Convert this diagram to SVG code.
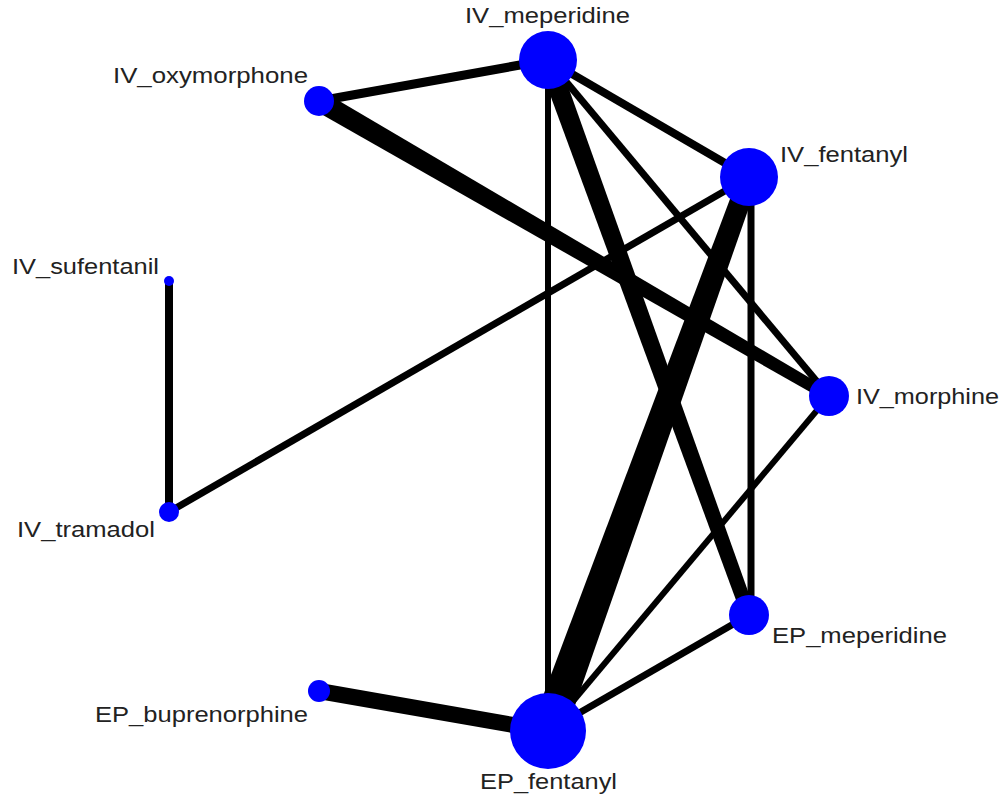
<svg xmlns="http://www.w3.org/2000/svg" width="1008" height="807" viewBox="0 0 1008 807">
<style>
.e{stroke:#000;stroke-linecap:butt;fill:none}
.n{fill:#0000ff}
.t{font-family:"Liberation Sans",Arial,sans-serif;font-size:22px;fill:#222}
</style>
<rect width="1008" height="807" fill="#fff"/>
<g id="edges">
<line class="e" x1="548" y1="60" x2="319" y2="101" stroke-width="9"/>
<line class="e" x1="548" y1="60" x2="749" y2="177" stroke-width="8"/>
<line class="e" x1="548" y1="60" x2="829" y2="396" stroke-width="7"/>
<polygon points="538.6,63.4 557.4,56.6 755.6,612.6 742.4,617.4" fill="#000"/>
<line class="e" x1="548" y1="60" x2="548" y2="731" stroke-width="6"/>
<polygon points="324,92 314,110 826,401 832,391" fill="#000"/>
<line class="e" x1="749" y1="177" x2="169" y2="512" stroke-width="7"/>
<polygon points="739.6,173.6 758.4,180.4 564,736.8 532,725.2" fill="#000"/>
<line class="e" x1="751" y1="177" x2="751" y2="615" stroke-width="7"/>
<line class="e" x1="829" y1="396" x2="548" y2="731" stroke-width="6"/>
<line class="e" x1="749" y1="615" x2="548" y2="731" stroke-width="7"/>
<line class="e" x1="319" y1="691" x2="548" y2="731" stroke-width="16"/>
<line class="e" x1="169" y1="281" x2="169" y2="512" stroke-width="8"/>
</g>
<g id="IV_meperidine"><circle class="n" cx="548" cy="60" r="29"/><text class="t" x="465" y="23" textLength="165" lengthAdjust="spacingAndGlyphs">IV_meperidine</text></g>
<g id="IV_oxymorphone"><circle class="n" cx="319" cy="101" r="15"/><text class="t" x="113" y="83" textLength="195" lengthAdjust="spacingAndGlyphs">IV_oxymorphone</text></g>
<g id="IV_fentanyl"><circle class="n" cx="749" cy="177" r="29"/><text class="t" x="780" y="162" textLength="128" lengthAdjust="spacingAndGlyphs">IV_fentanyl</text></g>
<g id="IV_sufentanil"><circle class="n" cx="169" cy="281" r="5"/><text class="t" x="12" y="274" textLength="147" lengthAdjust="spacingAndGlyphs">IV_sufentanil</text></g>
<g id="IV_morphine"><circle class="n" cx="829" cy="396" r="20"/><text class="t" x="856" y="404" textLength="143" lengthAdjust="spacingAndGlyphs">IV_morphine</text></g>
<g id="IV_tramadol"><circle class="n" cx="169" cy="512" r="10"/><text class="t" x="17" y="537" textLength="138" lengthAdjust="spacingAndGlyphs">IV_tramadol</text></g>
<g id="EP_meperidine"><circle class="n" cx="749" cy="615" r="20"/><text class="t" x="772" y="643" textLength="175" lengthAdjust="spacingAndGlyphs">EP_meperidine</text></g>
<g id="EP_buprenorphine"><circle class="n" cx="319" cy="691" r="11"/><text class="t" x="95" y="722" textLength="213" lengthAdjust="spacingAndGlyphs">EP_buprenorphine</text></g>
<g id="EP_fentanyl"><circle class="n" cx="548" cy="731" r="38"/><text class="t" x="480" y="789" textLength="137" lengthAdjust="spacingAndGlyphs">EP_fentanyl</text></g>
</svg>
